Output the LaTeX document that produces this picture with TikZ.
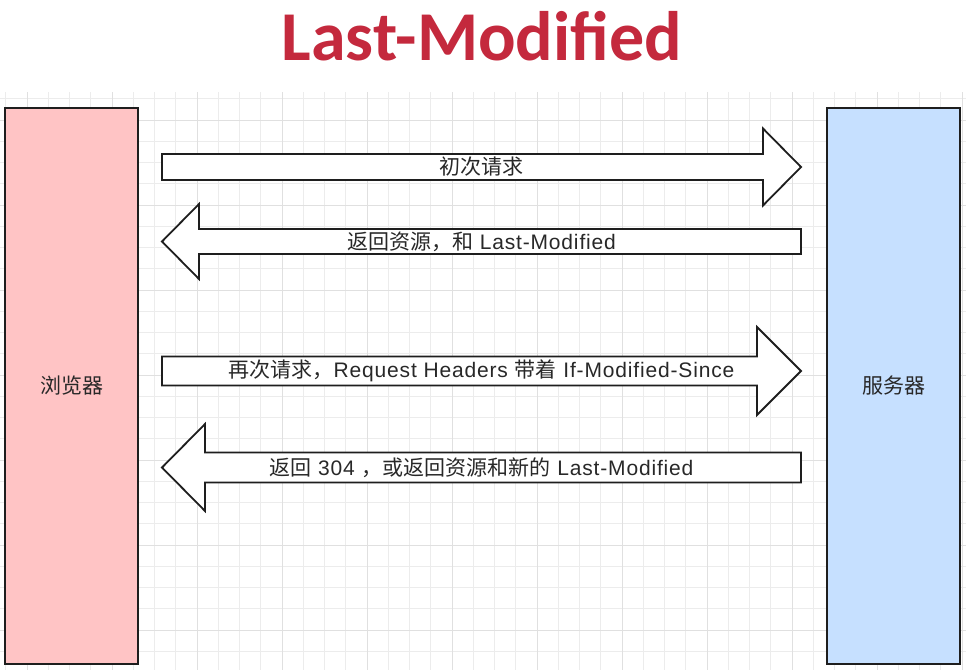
\documentclass[tikz,border=0pt]{standalone}
\usepackage{fontspec}
\setmainfont[LetterSpace=4]{Liberation Sans}
\newfontfamily\cjk{Noto Sans CJK SC}
\newfontfamily\titlefont{Carlito}
\usetikzlibrary{calc}
\definecolor{titlered}{RGB}{196,41,61}
\definecolor{boxpink}{RGB}{255,196,197}
\definecolor{boxblue}{RGB}{198,224,255}
\definecolor{gridminor}{RGB}{236,236,236}
\definecolor{gridmajor}{RGB}{224,224,224}
\definecolor{ink}{RGB}{30,30,30}
\definecolor{txt}{RGB}{40,40,40}

\tikzset{
  side/.style={draw=ink, line width=1.8pt, minimum width=133pt, minimum height=556pt,
    inner sep=0pt, text=txt, font=\cjk\fontsize{21}{21}\selectfont},
  msg/.style={inner sep=0pt, text=txt, font=\fontsize{21}{21}\selectfont},
  fat/.style n args={3}{draw=ink, fill=white, line width=1.8pt, line join=miter,
    to path={
      ($(\tikztostart)!#1!90:(\tikztotarget)$)
      -- ($($(\tikztotarget)!#3!(\tikztostart)$)!#1!90:(\tikztotarget)$)
      -- ($($(\tikztotarget)!#3!(\tikztostart)$)!#2!90:(\tikztotarget)$)
      -- (\tikztotarget)
      -- ($($(\tikztotarget)!#3!(\tikztostart)$)!#2!-90:(\tikztotarget)$)
      -- ($($(\tikztotarget)!#3!(\tikztostart)$)!#1!-90:(\tikztotarget)$)
      -- ($(\tikztostart)!#1!-90:(\tikztotarget)$)
      -- cycle}}
}

\begin{document}
\begin{tikzpicture}[x=1pt, y=-1pt]
    \useasboundingbox (0,0) rectangle (966,670);
    \fill[white] (0,0) rectangle (966,670);
    % grid paper
    \foreach \x in {5.75,27,...,962} \draw[gridminor, line width=0.8pt] (\x,92) -- (\x,670);
    \foreach \y in {98.75,120,...,660} \draw[gridminor, line width=0.8pt] (0,\y) -- (966,\y);
    \foreach \x in {27,112,...,962} \draw[gridmajor, line width=1pt] (\x,92) -- (\x,670);
    \foreach \y in {120,205,...,660} \draw[gridmajor, line width=1pt] (0,\y) -- (966,\y);
    % title
    \node[anchor=base, text=titlered, font=\titlefont\bfseries\fontsize{70}{70}\selectfont]
        (title) at (482,60) {Last-Modified};
    % browser and server
    \node[side, fill=boxpink] (browser) at (71.5,386) {浏览器};
    \node[side, fill=boxblue] (server) at (893.5,386) {服务器};
    % arrow ends
    \coordinate (a1s) at (162,167);   \coordinate (a1t) at (801,167);
    \coordinate (a2s) at (801,241.5); \coordinate (a2t) at (162,241.5);
    \coordinate (a3s) at (162,371);   \coordinate (a3t) at (801,371);
    \coordinate (a4s) at (801,467.5); \coordinate (a4t) at (162,467.5);
    % arrows
    \draw[fat={13pt}{38.5pt}{38pt}] (a1s) to (a1t);
    \draw[fat={12.5pt}{37.5pt}{37pt}] (a2s) to (a2t);
    \draw[fat={14.5pt}{44pt}{44pt}] (a3s) to (a3t);
    \draw[fat={15pt}{43.5pt}{43pt}] (a4s) to (a4t);
    % messages
    \node[msg] (m1) at ($(a1s)!.5!(a1t)$) {{\cjk 初次请求}};
    \node[msg] (m2) at ($(a2s)!.5!(a2t)$) {{\cjk 返回资源，和} Last-Modified};
    \node[msg] (m3) at ($(a3s)!.5!(a3t)$) {{\cjk 再次请求，}Request Headers {\cjk 带着} If-Modified-Since};
    \node[msg] (m4) at ($(a4s)!.5!(a4t)$) {{\cjk 返回} 304 {\cjk ，或返回资源和新的} Last-Modified};
\end{tikzpicture}
\end{document}
